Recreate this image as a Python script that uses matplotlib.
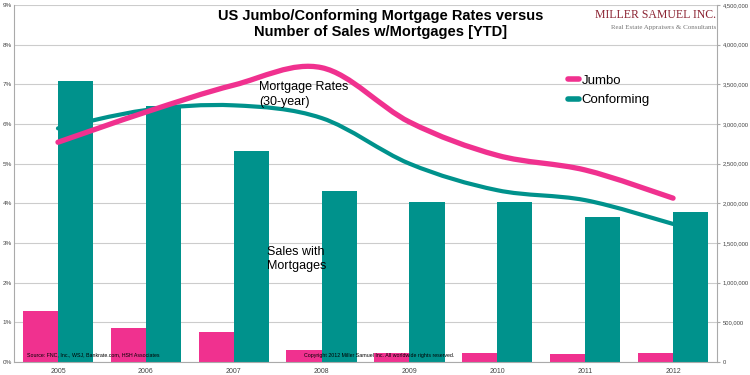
import matplotlib
matplotlib.use('agg')
import matplotlib.pyplot as plt
import numpy as np
from matplotlib.path import Path
from matplotlib.patches import PathPatch
from matplotlib.lines import Line2D
from matplotlib.ticker import FuncFormatter

plt.rcParams['font.family'] = ['Liberation Sans', 'DejaVu Sans']

years = ['2005', '2006', '2007', '2008', '2009', '2010', '2011', '2012']
jumbo_sales = [646000, 432000, 374000, 151000, 117000, 109000, 105000, 109000]
conf_sales = [3540000, 3228000, 2657000, 2154000, 2015000, 2015000, 1826000, 1889000]
jumbo_rate = [5.54, 6.3, 6.98, 7.42, 6.05, 5.21, 4.84, 4.13]
conf_rate = [5.89, 6.35, 6.47, 6.15, 5.0, 4.33, 4.08, 3.48]

pink = '#F0318F'
teal = '#00928C'
grid_c = '#CCCCCC'


def smooth_path(xs, ys):
    # excel-style smoothed line: bezier segments through the points
    pts = np.column_stack([xs, ys]).astype(float)
    n = len(pts)
    verts = [pts[0]]
    codes = [Path.MOVETO]
    for i in range(n - 1):
        p0 = pts[max(i - 1, 0)]
        p1 = pts[i]
        p2 = pts[i + 1]
        p3 = pts[min(i + 2, n - 1)]
        verts += [p1 + (p2 - p0) / 6, p2 - (p3 - p1) / 6, p2]
        codes += [Path.CURVE4] * 3
    return Path(verts, codes)


fig = plt.figure(figsize=(7.5, 3.75), dpi=100)
ax = fig.add_axes([0.0187, 0.0347, 0.9373, 0.952])
x = np.arange(len(years))
w = 0.4
ax.bar(x - w / 2, jumbo_sales, w, color=pink, zorder=2)
ax.bar(x + w / 2, conf_sales, w, color=teal, zorder=2)
ax.set_xlim(-0.5, len(years) - 0.5)
ax.set_ylim(0, 4500000)
ax.set_yticks(np.arange(0, 4500001, 500000))
ax.yaxis.set_major_formatter(FuncFormatter(lambda v, p: '{:,.0f}'.format(v)))
ax.grid(axis='y', color=grid_c, lw=0.8, zorder=0)
ax.set_xticks(x)
ax.set_xticklabels(years)
ax.tick_params(axis='x', length=0, labelsize=5, colors='#444444', pad=4)
for s in ['top', 'left']:
    ax.spines[s].set_visible(False)
for s in ['right', 'bottom']:
    ax.spines[s].set_color('#AAAAAA')
    ax.spines[s].set_linewidth(0.8)

ax2 = ax.twinx()
# twinx resets the host axis ticks, so put them back on the right
ax.yaxis.tick_right()
ax.tick_params(axis='y', length=2.5, labelsize=4.2, labelcolor='#444444',
               color='#AAAAAA', pad=1.5)
ax2.set_ylim(0, 9)
ax2.set_yticks(range(0, 10))
ax2.set_yticklabels(['{}%'.format(i) for i in range(0, 10)])
ax2.yaxis.tick_left()
ax2.tick_params(axis='y', length=0, labelsize=4.6, colors='#444444', pad=1.5)
for s in ['top', 'right', 'bottom']:
    ax2.spines[s].set_visible(False)
ax2.spines['left'].set_color('#AAAAAA')
ax2.spines['left'].set_linewidth(0.8)

ax2.add_patch(PathPatch(smooth_path(x, conf_rate), fill=False, ec=teal, lw=3.0,
                        capstyle='round', zorder=3))
ax2.add_patch(PathPatch(smooth_path(x, jumbo_rate), fill=False, ec=pink, lw=3.8,
                        capstyle='round', zorder=4))

handles = [Line2D([], [], color=pink, lw=4, solid_capstyle='round'),
           Line2D([], [], color=teal, lw=4, solid_capstyle='round')]
ax2.legend(handles, ['Jumbo', 'Conforming'], loc='upper left',
           bbox_to_anchor=(0.78, 0.82), frameon=False, fontsize=9.5,
           handlelength=0.9, handletextpad=0.15, labelspacing=0.55,
           borderaxespad=0)

ax2.text(2.29, 6.75, 'Mortgage Rates\n(30-year)', fontsize=9, va='center',
         ha='left', linespacing=1.3, zorder=5)
ax2.text(2.38, 2.6, 'Sales with\nMortgages', fontsize=9, va='center',
         ha='left', linespacing=1.3, zorder=5)

fig.text(0.507, 0.937, 'US Jumbo/Conforming Mortgage Rates versus\nNumber of Sales w/Mortgages [YTD]',
         ha='center', va='center', fontsize=10.5, fontweight='bold',
         linespacing=1.2)

fig.text(0.955, 0.96, 'MILLER SAMUEL INC.', ha='right', va='center',
         fontsize=8.5, family='Liberation Serif', color='#8B2332')
fig.text(0.955, 0.927, 'Real Estate Appraisers & Consultants', ha='right',
         va='center', fontsize=5, family='Liberation Serif', color='#777777')

ax2.text(-0.35, 0.17, 'Source: FNC, Inc., WSJ, Bankrate.com, HSH Associates',
         fontsize=3.8, va='center', ha='left', zorder=5)
ax2.text(2.80, 0.17, 'Copyright 2012 Miller Samuel Inc. All worldwide rights reserved.',
         fontsize=3.8, va='center', ha='left', zorder=5)

fig.savefig('out.png', dpi=100)
